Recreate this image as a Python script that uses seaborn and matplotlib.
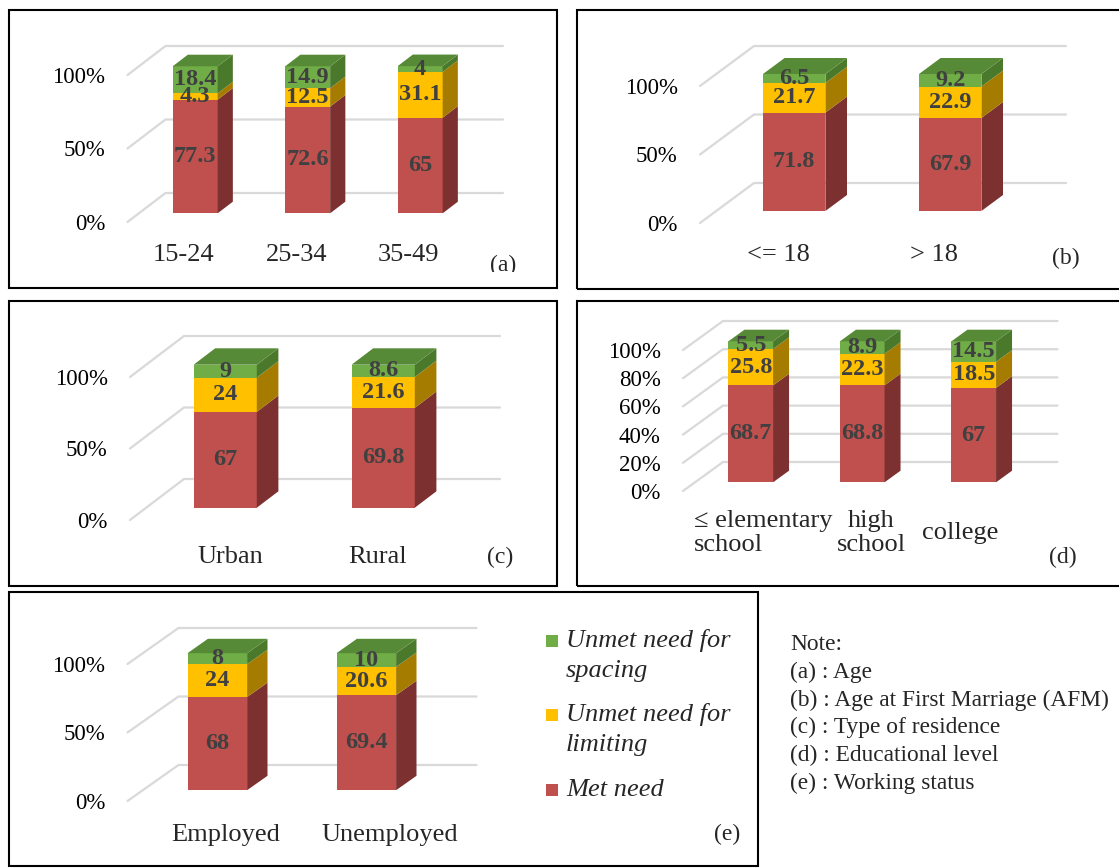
import matplotlib
matplotlib.use('Agg')
import matplotlib.pyplot as plt
import seaborn as sns
from matplotlib.patches import Polygon, Rectangle
from matplotlib.transforms import Bbox

sns.set_theme(style='white')
plt.rcParams['font.family'] = ['Liberation Serif', 'DejaVu Serif']

# ---- data (percent) ----
age_cats = ['15-24', '25-34', '35-49']
age_met = [77.3, 72.6, 65]
age_lim = [4.3, 12.5, 31.1]
age_spa = [18.4, 14.9, 4]

afm_cats = ['<= 18', '> 18']
afm_met = [71.8, 67.9]
afm_lim = [21.7, 22.9]
afm_spa = [6.5, 9.2]

res_cats = ['Urban', 'Rural']
res_met = [67, 69.8]
res_lim = [24, 21.6]
res_spa = [9, 8.6]

edu_cats = ['\u2264 elementary\nschool', 'high\nschool', 'college']
edu_met = [68.7, 68.8, 67]
edu_lim = [25.8, 22.3, 18.5]
edu_spa = [5.5, 8.9, 14.5]

work_cats = ['Employed', 'Unemployed']
work_met = [68, 69.4]
work_lim = [24, 20.6]
work_spa = [8, 10]

series_names = ['Unmet need for\nspacing', 'Unmet need for\nlimiting', 'Met need']
notes = ['Note:', '(a) : Age', '(b) : Age at First Marriage (AFM)',
         '(c) : Type of residence', '(d) : Educational level', '(e) : Working status']

# front colour, side colour, top colour
RED = ('#C0504D', '#7C3030', '#9A3F3D')
YEL = ('#FFC000', '#A67C00', '#CC9A00')
GRN = ('#70AD47', '#4B792C', '#578A37')
GRID = '#D9D9D9'
VAL = '#404040'

W, H = 1119, 868
fig = plt.figure(figsize=(W / 100, H / 100), dpi=100)


def px_rect(x0, y0, x1, y1, **kw):
    fig.add_artist(Rectangle((x0 / W, 1 - y1 / H), (x1 - x0) / W, (y1 - y0) / H,
                             transform=fig.transFigure, **kw))


def draw_panel(cats, met, lim, spa, left, spacing, y0, y100, depth, yticks,
               xoffs, label_dy=33, multi_left=False):
    n = len(cats)
    ax = fig.add_axes([left / W, 1 - y0 / H, n * spacing / W, (y0 - y100) / H])
    ddx = depth[0] / spacing
    ddy = depth[1] / (y0 - y100) * 100
    f, bd = 0.3, 0.4
    hw = 0.2

    # back wall + side wall gridlines
    for v in yticks:
        ax.plot([-0.5, -0.5 + ddx, n - 0.5 + ddx], [v, v + ddy, v + ddy],
                color=GRID, lw=1.6, clip_on=False, zorder=1)

    # front faces: cumulative overlay drawn with seaborn
    c1 = list(met)
    c2 = [m + l for m, l in zip(met, lim)]
    c3 = [a + s for a, s in zip(c2, spa)]
    for vals, col in [(c3, GRN[0]), (c2, YEL[0]), (c1, RED[0])]:
        sns.barplot(x=cats, y=vals, color=col, saturation=1, width=2 * hw,
                    errorbar=None, linewidth=0, ax=ax, zorder=3)
    for p in ax.patches:
        p.set_x(p.get_x() + f * ddx)
        p.set_y(p.get_y() + f * ddy)
        p.set_clip_on(False)

    # side and top faces + value labels
    for i in range(n):
        xl = i - hw + f * ddx
        xr = i + hw + f * ddx
        segs = [(0, c1[i], RED, met[i]), (c1[i], c2[i], YEL, lim[i]),
                (c2[i], c3[i], GRN, spa[i])]
        for b, t, col, v in segs:
            yb, yt = b + f * ddy, t + f * ddy
            ax.add_patch(Polygon([(xr, yb), (xr + bd * ddx, yb + bd * ddy),
                                  (xr + bd * ddx, yt + bd * ddy), (xr, yt)],
                                 closed=True, fc=col[1], ec='none',
                                 clip_on=False, zorder=3))
            ax.text(i + f * ddx, (yb + yt) / 2, f'{v:g}', ha='center', va='center',
                    fontsize=17.5, fontweight='bold', color=VAL, zorder=6,
                    clip_on=False)
        yt = c3[i] + f * ddy
        ax.add_patch(Polygon([(xl, yt), (xr, yt), (xr + bd * ddx, yt + bd * ddy),
                              (xl + bd * ddx, yt + bd * ddy)],
                             closed=True, fc=GRN[2], ec='none', clip_on=False,
                             zorder=3))

    ax.set_xlim(-0.5, n - 0.5)
    ax.set_ylim(0, 100)
    ax.set_xticks([])
    ax.set_xlabel('')
    ax.set_yticks(yticks, labels=[f'{v}%' for v in yticks])
    ax.tick_params(axis='y', length=0, pad=16, labelsize=16.5, labelcolor='black')
    for s in ax.spines.values():
        s.set_visible(False)
    ax.patch.set_alpha(0)

    for i, (lab, xo) in enumerate(zip(cats, xoffs)):
        t = ax.annotate(lab, xy=(i, 0), xytext=(xo * 0.72, -label_dy * 0.72),
                        textcoords='offset points', ha='center', va='center',
                        fontsize=19, annotation_clip=False, linespacing=1.08)
        if multi_left and i == 0:
            t.set_multialignment('left')
    return ax


# panel frames
frame = dict(fill=False, ec='black', lw=1.5)
px_rect(9, 10, 557, 288, **frame)
px_rect(577, 10, 1125, 289, **frame)
px_rect(9, 301, 557, 586, **frame)
px_rect(577, 301, 1125, 586, **frame)
px_rect(9, 592, 758, 866, **frame)

draw_panel(age_cats, age_met, age_lim, age_spa, 127.5, 112.5, 222, 75, (38, 29),
           [0, 50, 100], [0, 0, 0], label_dy=33)
draw_panel(afm_cats, afm_met, afm_lim, afm_spa, 700, 156, 223, 86, (54, 40),
           [0, 50, 100], [0, 0], label_dy=32)
draw_panel(res_cats, res_met, res_lim, res_spa, 130, 158, 520, 377, (54, 41),
           [0, 50, 100], [21, 11], label_dy=37)
draw_panel(edu_cats, edu_met, edu_lim, edu_spa, 683, 111.5, 491, 350, (40, 29),
           [0, 20, 40, 60, 80, 100], [24, 21, -2], label_dy=42, multi_left=True)
draw_panel(work_cats, work_met, work_lim, work_spa, 127.5, 149, 801, 664, (51, 36),
           [0, 50, 100], [24, 39], label_dy=34)

# panel tags
for tag, x, y in [('(a)', 503, 265), ('(b)', 1066, 258), ('(c)', 500, 557),
                  ('(d)', 1063, 557), ('(e)', 727, 834)]:
    t = fig.text(x / W, 1 - y / H, tag, ha='center', va='center', fontsize=17)
    if tag == '(a)':
        t.set_clip_box(Bbox([[0, H - 272], [W, H]]))
        t.set_clip_on(True)

# legend of panel (e)
for name, col, y in zip(series_names, [GRN, YEL, RED], [641, 715, 790]):
    px_rect(546, y - 6, 558, y + 6, fc=col[0], ec='none')
    fig.text(566 / W, 1 - y / H, name.split('\n')[0], ha='left', va='center',
             fontsize=19, style='italic')
    if '\n' in name:
        fig.text(566 / W, 1 - (y + 30) / H, name.split('\n')[1], ha='left',
                 va='center', fontsize=19, style='italic')

# note
for k, line in enumerate(notes):
    fig.text(790 / W, 1 - (645 + k * 27.6) / H, line, ha='left', va='center',
             fontsize=16.8)

fig.savefig('out.png', dpi=100)
